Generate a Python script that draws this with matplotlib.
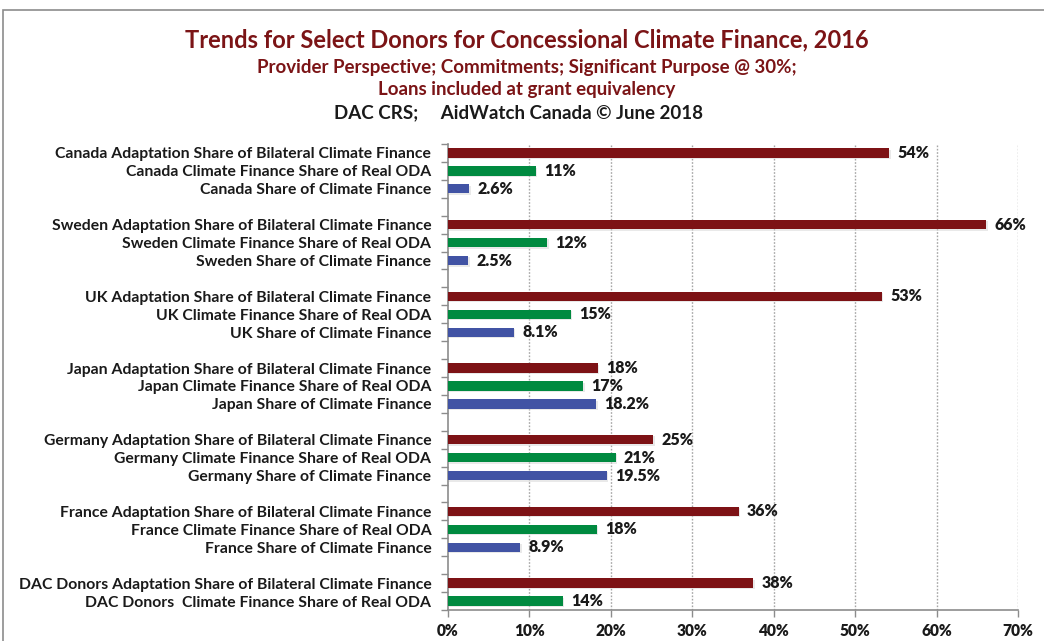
import matplotlib
matplotlib.use("Agg")
import matplotlib.pyplot as plt
from matplotlib.patches import Rectangle
import matplotlib.patheffects as pe
from matplotlib.ticker import FixedLocator

# ---------------- data ----------------
donors = ["Canada", "Sweden", "UK", "Japan", "Germany", "France", "DAC Donors"]
adaptation_share = [54.2, 66.1, 53.3, 18.4, 25.2, 35.7, 37.5]
climate_oda_share = [10.8, 12.2, 15.1, 16.6, 20.6, 18.3, 14.1]
climate_finance_share = [2.6, 2.5, 8.1, 18.2, 19.5, 8.9, None]

adaptation_labels = [
    "Canada Adaptation Share of Bilateral Climate Finance",
    "Sweden Adaptation Share of Bilateral Climate Finance",
    "UK Adaptation Share of Bilateral Climate Finance",
    "Japan Adaptation Share of Bilateral Climate Finance",
    "Germany Adaptation Share of Bilateral Climate Finance",
    "France Adaptation Share of Bilateral Climate Finance",
    "DAC Donors Adaptation Share of Bilateral Climate Finance",
]
oda_labels = [
    "Canada Climate Finance Share of Real ODA",
    "Sweden Climate Finance Share of Real ODA",
    "UK Climate Finance Share of Real ODA",
    "Japan Climate Finance Share of Real ODA",
    "Germany Climate Finance Share of Real ODA",
    "France Climate Finance Share of Real ODA",
    "DAC Donors  Climate Finance Share of Real ODA",
]
share_labels = [
    "Canada Share of Climate Finance",
    "Sweden Share of Climate Finance",
    "UK Share of Climate Finance",
    "Japan Share of Climate Finance",
    "Germany Share of Climate Finance",
    "France Share of Climate Finance",
    None,
]
x_ticks = [0, 10, 20, 30, 40, 50, 60, 70]

title = "Trends for Select Donors for Concessional Climate Finance, 2016"
subtitle1 = "Provider Perspective; Commitments; Significant Purpose @ 30%;"
subtitle2 = "Loans included at grant equivalency"
source = "DAC CRS;     AidWatch Canada \u00a9 June 2018"

# ---------------- style ----------------
RED = "#7D1215"
GREEN = "#008A40"
BLUE = "#4153A4"
DARKRED_TXT = "#7B1416"
FONT = "Lato"

plt.rcParams["font.family"] = [FONT, "DejaVu Sans"]
plt.rcParams["font.weight"] = "bold"

fig = plt.figure(figsize=(10.44, 6.41), dpi=100)
W, H = 1044, 641

# outer frame
fig.patches.append(Rectangle((3 / W, -0.1), 1.2, (H - 10) / H + 0.1,
                             transform=fig.transFigure, fill=False,
                             edgecolor="#8C8C8C", linewidth=1.2))

ax = fig.add_axes([448 / W, (H - 610) / H, 570 / W, 466 / H])

# build row slots (top to bottom), blank slot between groups
rows = []  # (label, value, color, fmt)
for i, d in enumerate(donors):
    if i > 0:
        rows.append(None)
    rows.append((adaptation_labels[i], adaptation_share[i], RED, "{:.0f}%"))
    rows.append((oda_labels[i], climate_oda_share[i], GREEN, "{:.0f}%"))
    if climate_finance_share[i] is not None:
        rows.append((share_labels[i], climate_finance_share[i], BLUE, "{:.1f}%"))

n = len(rows)
ypos, ylabels = [], []
shadow = [pe.SimplePatchShadow(offset=(1.0, -1.0), shadow_rgbFace="#CFCFCF", alpha=0.45), pe.Normal()]
for k, r in enumerate(rows):
    if r is None:
        continue
    lab, val, col, fmt = r
    y = k
    ax.barh(y, val, height=0.52, color=col, zorder=3, path_effects=shadow)
    ax.text(val + 1.0, y, fmt.format(val), va="center", ha="left",
            fontsize=11.5, fontweight="heavy", color="#1A1A1A", zorder=4)
    ypos.append(y)
    ylabels.append(lab)

ax.set_ylim(n - 0.5, -0.5)
ax.set_xlim(0, 70)

ax.set_yticks(ypos)
ax.set_yticklabels(ylabels, fontsize=11.3, fontweight="bold", color="#1A1A1A")
ax.yaxis.set_minor_locator(FixedLocator([k - 0.5 for k in range(n + 1)]))
ax.tick_params(axis="y", which="major", length=0, pad=12)
ax.tick_params(axis="y", which="minor", length=5, color="#8C8C8C", width=1)

ax.set_xticks(x_ticks)
ax.set_xticklabels([f"{t}%" for t in x_ticks], fontsize=11.2, fontweight="heavy", color="#1A1A1A")
ax.tick_params(axis="x", which="major", length=5, color="#8C8C8C", width=1, pad=4)

for t in x_ticks[1:]:
    ax.axvline(t, color="#A6A6A6", linestyle=(0, (1.2, 1.2)), linewidth=1, zorder=1)

for s in ["top", "right"]:
    ax.spines[s].set_visible(False)
for s in ["left", "bottom"]:
    ax.spines[s].set_color("#8C8C8C")
    ax.spines[s].set_linewidth(1.2)

fig.text(527 / W, 1 - 40 / H, title, ha="center", va="center",
         fontsize=17, fontweight="bold", color=DARKRED_TXT)
fig.text(527 / W, 1 - 68 / H, subtitle1, ha="center", va="center",
         fontsize=13.5, fontweight="bold", color=DARKRED_TXT)
fig.text(527 / W, 1 - 90 / H, subtitle2, ha="center", va="center",
         fontsize=13.5, fontweight="bold", color=DARKRED_TXT)
fig.text(519 / W, 1 - 113 / H, source, ha="center", va="center",
         fontsize=13.5, fontweight="bold", color="#1A1A1A")

fig.savefig("out.png", dpi=100)
